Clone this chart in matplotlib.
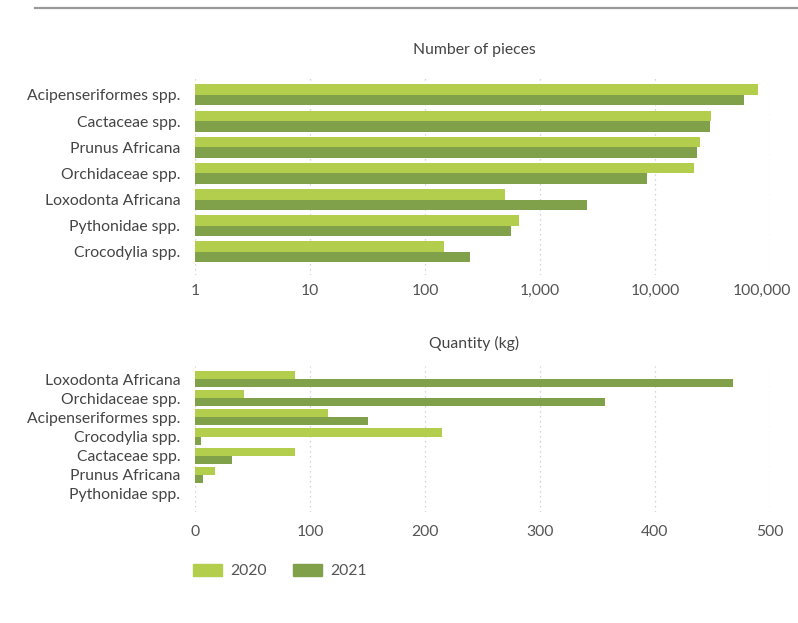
import matplotlib.pyplot as plt
import matplotlib.ticker as mticker
import matplotlib.transforms as mtransforms
from matplotlib.patches import Patch
import numpy as np

plt.rcParams['font.family'] = ['Lato', 'DejaVu Sans']

# number of pieces (log scale)
pieces_species = ["Acipenseriformes spp.", "Cactaceae spp.", "Prunus Africana",
                  "Orchidaceae spp.", "Loxodonta Africana", "Pythonidae spp.",
                  "Crocodylia spp."]
pieces_2020 = [79100, 30600, 24600, 21700, 496, 653, 145]
pieces_2021 = [59400, 29900, 23400, 8470, 2560, 558, 248]

# quantity in kg
kg_species = ["Loxodonta Africana", "Orchidaceae spp.", "Acipenseriformes spp.",
              "Crocodylia spp.", "Cactaceae spp.", "Prunus Africana",
              "Pythonidae spp."]
kg_2020 = [87, 42.5, 116, 215, 87, 17, 0]
kg_2021 = [468, 356.5, 150, 5, 32, 7, 0]

c20 = "#b3cd4d"
c21 = "#80a04a"
txt = "#444444"
tick_c = "#555555"
fs = 11.3

fig = plt.figure(figsize=(7.98, 6.23), dpi=100)

# grey rule at the top
fig.add_artist(plt.Line2D([35 / 798, 1], [1 - 8 / 623] * 2, color="#9a9a9a", lw=1.6))


def style(ax, pad):
    for s in ax.spines.values():
        s.set_visible(False)
    ax.tick_params(axis="y", length=0, labelsize=fs, labelcolor=txt, pad=10.5)
    ax.tick_params(axis="x", length=0, labelsize=fs, labelcolor=tick_c, pad=pad)
    ax.grid(axis="x", color="#c8c8c8", linestyle=(0, (1, 3)), lw=0.9)
    ax.set_axisbelow(True)


h = 0.4

# top: number of pieces
ax1 = fig.add_axes([195 / 798, 1 - 275 / 623, 575 / 798, 200 / 623])
y = np.arange(len(pieces_species))
ax1.set_xscale("log")
ax1.barh(y - h / 2, pieces_2020, height=h, color=c20)
ax1.barh(y + h / 2, pieces_2021, height=h, color=c21)
ax1.set_xlim(1, 100000)
ax1.set_ylim(6.88, -0.76)
ax1.set_yticks(y)
ax1.set_yticklabels(pieces_species)
ax1.set_xticks([1, 10, 100, 1000, 10000, 100000])
ax1.xaxis.set_minor_locator(mticker.NullLocator())
ax1.xaxis.set_major_formatter(mticker.FuncFormatter(lambda v, p: f"{int(round(v)):,}"))
style(ax1, 6.5)
# last label pulled in a bit, as in the original
last = ax1.get_xticklabels()[-1]
last.set_transform(last.get_transform() + mtransforms.ScaledTranslation(-8 / 100, 0, fig.dpi_scale_trans))
fig.text(474 / 798, 1 - 50 / 623, "Number of pieces", ha="center", va="center",
         fontsize=fs, color=txt)

# bottom: quantity (kg)
ax2 = fig.add_axes([195 / 798, 1 - 512 / 623, 575 / 798, 146 / 623])
y2 = np.arange(len(kg_species))
ax2.barh(y2 - 0.21, kg_2020, height=0.42, color=c20)
ax2.barh(y2 + 0.21, kg_2021, height=0.42, color=c21)
ax2.set_xlim(0, 500)
ax2.set_ylim(6.94, -0.68)
ax2.set_yticks(y2)
ax2.set_yticklabels(kg_species)
ax2.set_xticks([0, 100, 200, 300, 400, 500])
style(ax2, 9.5)
fig.text(474 / 798, 1 - 343 / 623, "Quantity (kg)", ha="center", va="center",
         fontsize=fs, color=txt)

# legend
handles = [Patch(color=c20, label="2020"), Patch(color=c21, label="2021")]
fig.legend(handles=handles, loc="center left", bbox_to_anchor=(193 / 798, 1 - 571 / 623),
           ncol=2, frameon=False, fontsize=fs, handlelength=1.85, handleheight=0.85,
           handletextpad=0.5, columnspacing=1.7, borderpad=0, borderaxespad=0,
           labelcolor=tick_c)

fig.savefig("out.png", dpi=100)
